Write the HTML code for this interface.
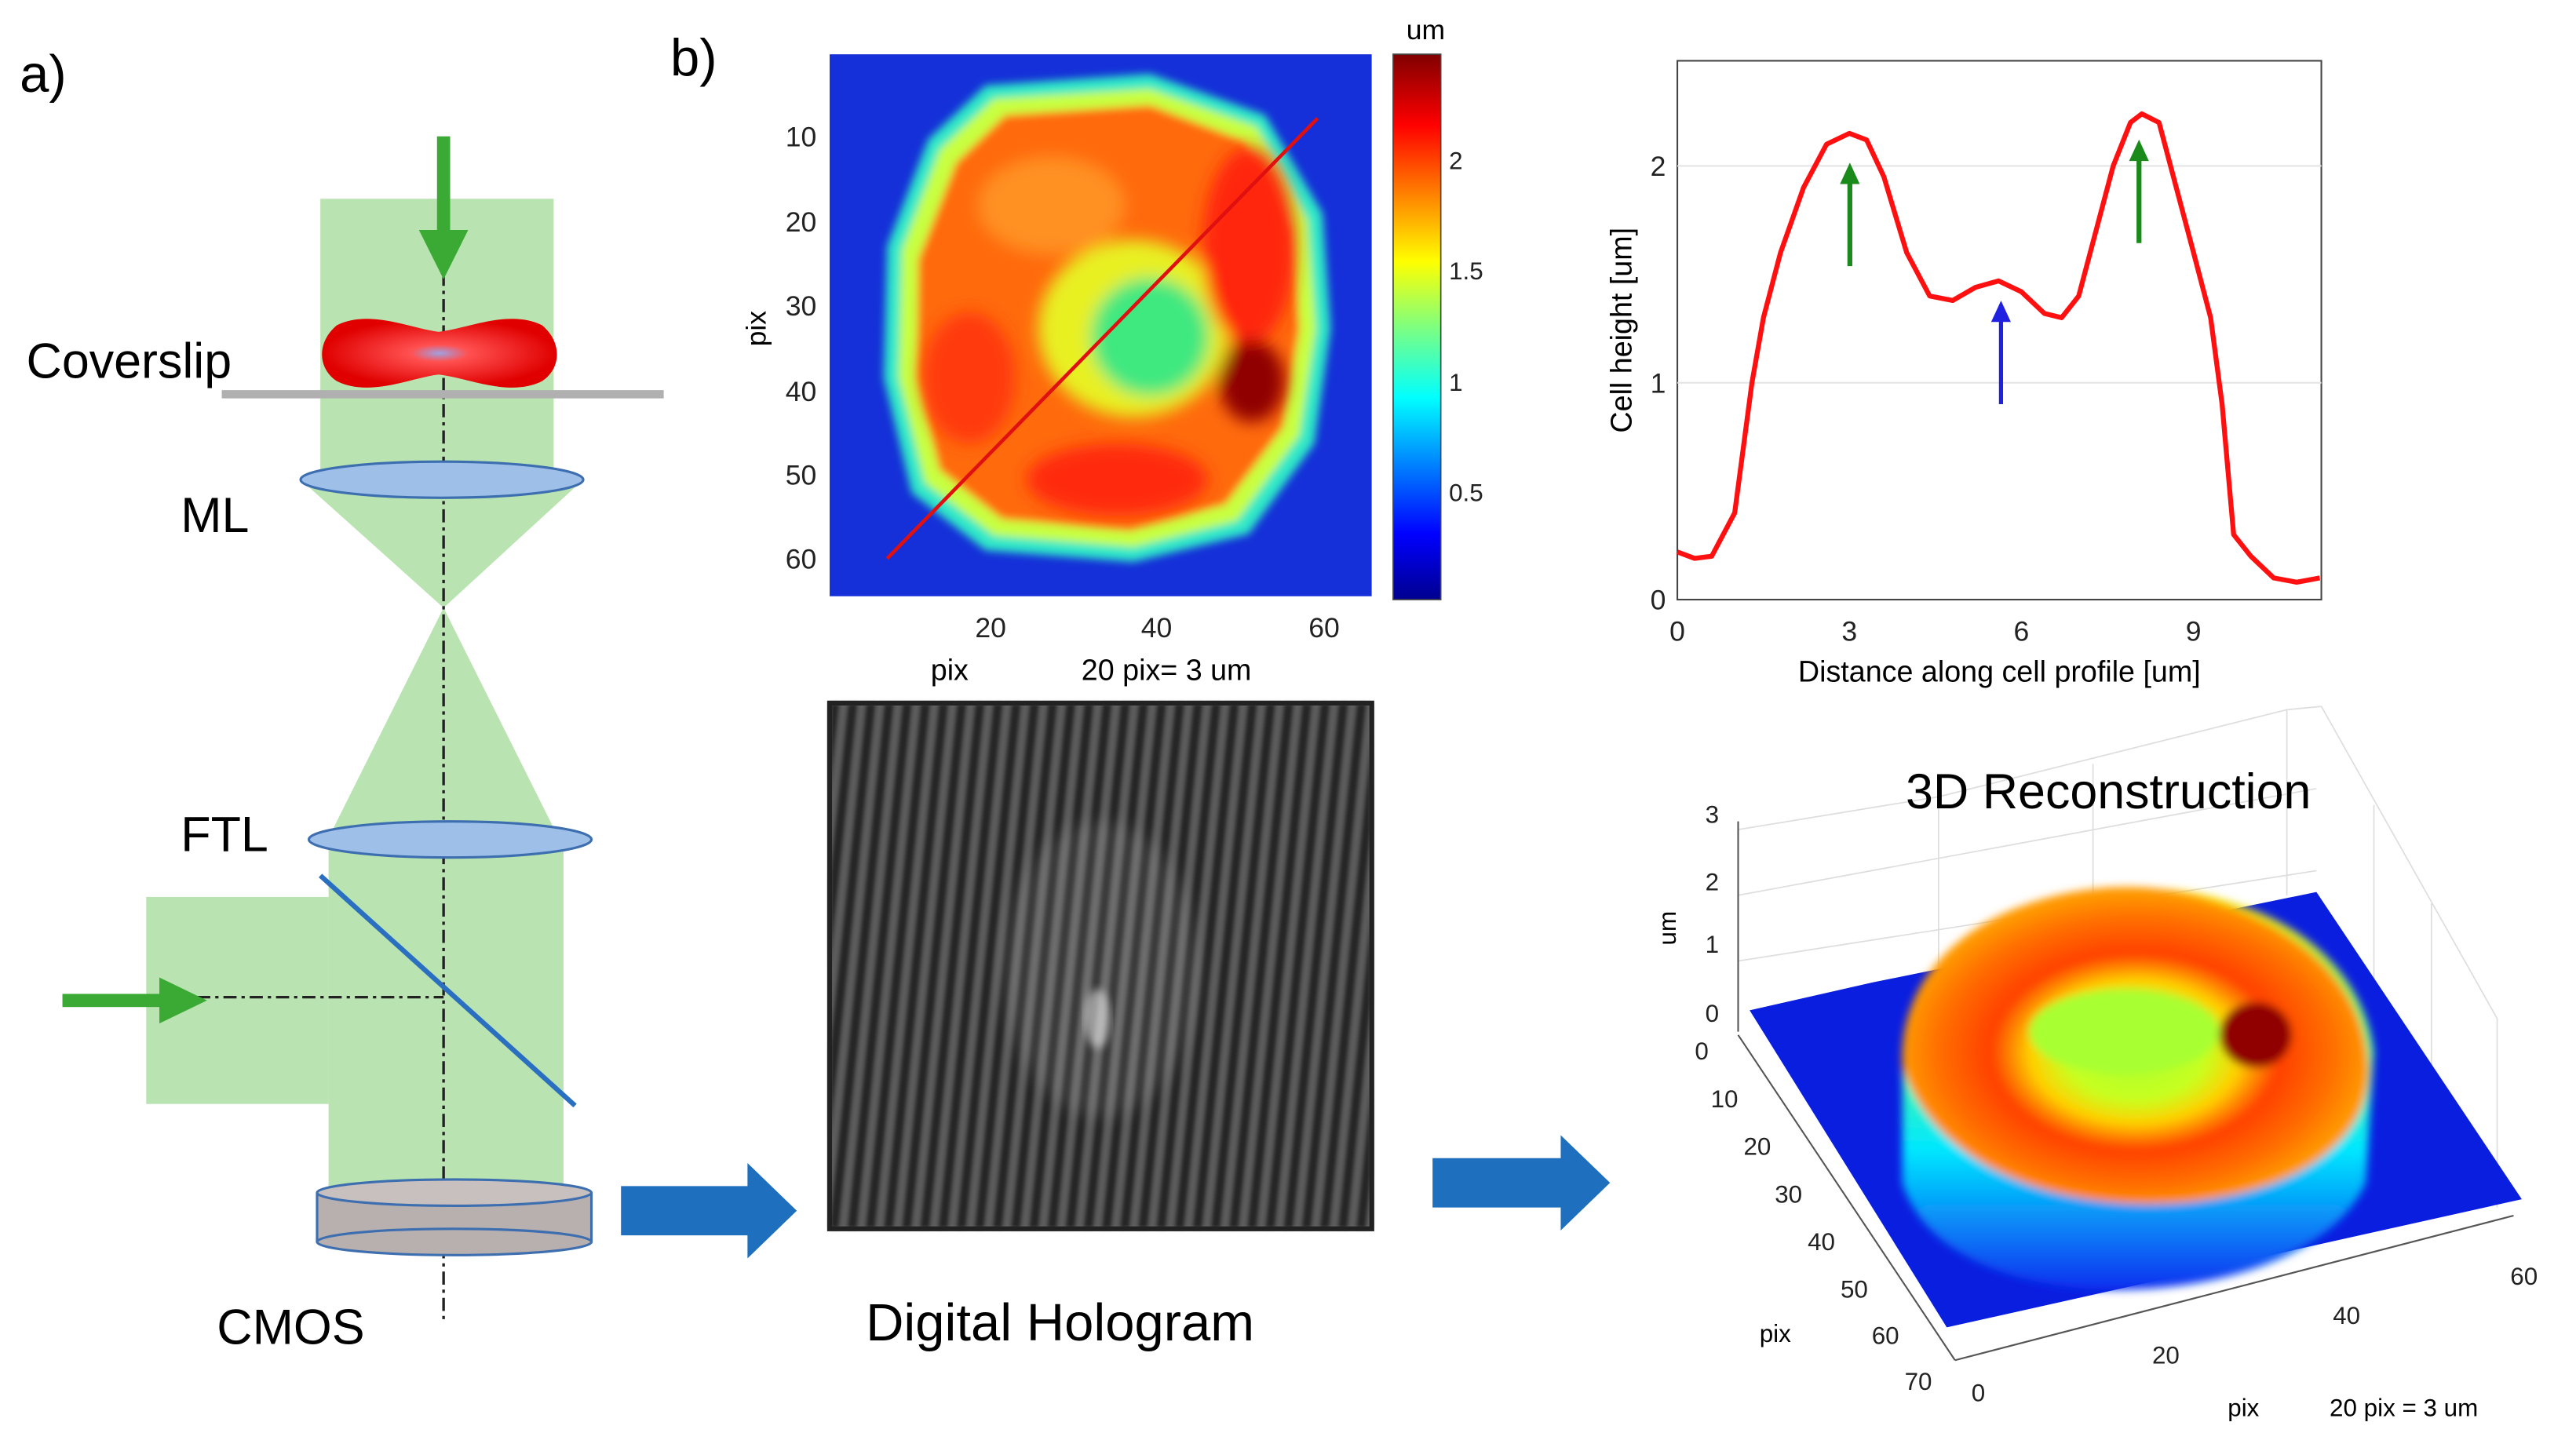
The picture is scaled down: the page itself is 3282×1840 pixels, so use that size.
<!DOCTYPE html>
<html><head><meta charset="utf-8"><style>
html,body{margin:0;padding:0;background:#fff;}
svg{display:block;font-family:"Liberation Sans",sans-serif;}
</style></head><body>
<svg id="fig" width="3282" height="1840" viewBox="0 0 1568 879" preserveAspectRatio="none" xmlns="http://www.w3.org/2000/svg">
<defs>
 <linearGradient id="jet" x1="0" y1="1" x2="0" y2="0">
  <stop offset="0" stop-color="#00008f"/><stop offset="0.12" stop-color="#0000ff"/>
  <stop offset="0.37" stop-color="#00ffff"/><stop offset="0.5" stop-color="#7fff7f"/>
  <stop offset="0.62" stop-color="#ffff00"/><stop offset="0.87" stop-color="#ff0000"/>
  <stop offset="1" stop-color="#800000"/>
 </linearGradient>
 <filter id="blur4"><feGaussianBlur stdDeviation="5"/></filter>
 <filter id="blur2"><feGaussianBlur stdDeviation="2.5"/></filter>
 <filter id="blur1"><feGaussianBlur stdDeviation="1.2"/></filter>
 <radialGradient id="cellg" cx="0.5" cy="0.5" r="0.5">
  <stop offset="0" stop-color="#a0a0e0"/><stop offset="0.25" stop-color="#ff5050"/><stop offset="1" stop-color="#e00000"/>
 </radialGradient>
 <pattern id="fringe" width="11" height="40" patternUnits="userSpaceOnUse" patternTransform="rotate(6)">
  <rect width="11" height="40" fill="#252525"/>
  <rect x="3" width="5" height="40" fill="#6a6a6a" opacity="0.8"/>
 </pattern>
 <radialGradient id="top3d" cx="0.5" cy="0.52" r="0.5">
  <stop offset="0" stop-color="#a8ff30"/><stop offset="0.3" stop-color="#c8ff20"/>
  <stop offset="0.45" stop-color="#ffd000"/><stop offset="0.62" stop-color="#ff4000"/>
  <stop offset="0.85" stop-color="#ff7000"/><stop offset="1" stop-color="#ff9a00"/>
 </radialGradient>
 <linearGradient id="skirt" x1="0" y1="0" x2="0" y2="1">
  <stop offset="0" stop-color="#ffe000"/><stop offset="0.35" stop-color="#60ff80"/>
  <stop offset="0.65" stop-color="#00e8ff"/><stop offset="1" stop-color="#1030f0"/>
 </linearGradient>
</defs>

<!-- PANEL A -->
<g>
 <text x="12" y="56" font-size="32">a)</text>
 <rect x="195" y="121" width="142" height="171" fill="#b9e3b0"/>
 <polygon points="183,292 355,292 270,370" fill="#b9e3b0"/>
 <polygon points="270,370 200,510 340,510" fill="#b9e3b0"/>
 <rect x="200" y="510" width="143" height="218" fill="#b9e3b0"/>
 <rect x="89" y="546" width="111" height="126" fill="#b9e3b0"/>
 <line x1="270" y1="150" x2="270" y2="806" stroke="#222" stroke-width="1.6" stroke-dasharray="8,3,2,3"/>
 <line x1="40" y1="607" x2="270" y2="607" stroke="#222" stroke-width="1.6" stroke-dasharray="8,3,2,3"/>
 <path d="M205,198 C225,188 250,200 267,202 C285,200 310,188 330,198 C342,208 342,224 330,232 C310,242 285,230 267,228 C250,230 225,242 205,232 C193,224 193,208 205,198 Z" fill="url(#cellg)"/>
 <line x1="135" y1="240" x2="404" y2="240" stroke="#b0b0b0" stroke-width="5"/>
 <g><rect x="266" y="83" width="8" height="60" fill="#3aaa35"/><polygon points="255,140 285,140 270,170" fill="#3aaa35"/></g>
 <g><rect x="38" y="605" width="62" height="8" fill="#3aaa35"/><polygon points="97,595 97,623 126,609" fill="#3aaa35"/></g>
 <ellipse cx="269" cy="292" rx="86" ry="11" fill="#9dbfe8" stroke="#3d6eb0" stroke-width="1.5"/>
 <ellipse cx="274" cy="511" rx="86" ry="11" fill="#9dbfe8" stroke="#3d6eb0" stroke-width="1.5"/>
 <line x1="195" y1="533" x2="350" y2="673" stroke="#2a6fc0" stroke-width="3"/>
 <g>
  <rect x="193" y="726" width="167" height="30" fill="#b8b0ae"/>
  <ellipse cx="276.5" cy="756" rx="83.5" ry="8" fill="#b8b0ae" stroke="#3d6eb0" stroke-width="1.5"/>
  <line x1="193" y1="726" x2="193" y2="756" stroke="#3d6eb0" stroke-width="1.5"/><line x1="360" y1="726" x2="360" y2="756" stroke="#3d6eb0" stroke-width="1.5"/>
  <ellipse cx="276.5" cy="726" rx="83.5" ry="8" fill="#c8c0be" stroke="#3d6eb0" stroke-width="1.5"/>
 </g>
 <text x="16" y="230" font-size="30">Coverslip</text>
 <text x="110" y="324" font-size="30">ML</text>
 <text x="110" y="518" font-size="30">FTL</text>
 <text x="132" y="818" font-size="30">CMOS</text>
 <polygon points="378,722 455,722 455,708 485,737 455,766 455,752 378,752" fill="#1f6fbf"/>
 <polygon points="872,705 950,705 950,691 980,720 950,749 950,735 872,735" fill="#1f6fbf"/>
</g>

<text x="408" y="46" font-size="32">b)</text>

<!-- HEATMAP -->
<g>
 <svg x="505" y="33" width="330" height="330" viewBox="505 33 330 330">
  <rect x="505" y="33" width="330" height="330" fill="#1530d8"/>
  <g filter="url(#blur2)">
   <path d="M600,52 L700,45 L770,70 L805,130 L810,200 L800,270 L760,325 L690,342 L600,335 L555,300 L538,230 L540,150 L565,85 Z" fill="#2ee8c8"/>
   <path d="M605,60 L700,54 L765,77 L796,134 L801,200 L791,265 L753,317 L690,333 L605,326 L563,294 L547,230 L549,152 L572,91 Z" fill="#c8ff40"/>
   <path d="M612,70 L700,64 L758,86 L786,140 L791,200 L781,260 L746,307 L688,323 L610,316 L572,286 L558,230 L559,158 L582,99 Z" fill="#ff6a10"/>
  </g>
  <g filter="url(#blur4)">
   <ellipse cx="640" cy="125" rx="45" ry="30" fill="#ff9020"/>
   <ellipse cx="690" cy="200" rx="58" ry="54" fill="#e8f020"/>
   <ellipse cx="700" cy="205" rx="36" ry="36" fill="#40e880"/>
   <ellipse cx="760" cy="150" rx="28" ry="60" fill="#ff2808"/>
   <ellipse cx="762" cy="232" rx="20" ry="25" fill="#900000"/>
   <ellipse cx="590" cy="230" rx="28" ry="40" fill="#ff3a10"/>
   <ellipse cx="680" cy="292" rx="55" ry="22" fill="#ff2a10"/>
  </g>
 </svg>
 <line x1="540" y1="340" x2="802" y2="72" stroke="#e01010" stroke-width="2.2"/>
 <g font-size="17" text-anchor="end" fill="#222">
  <text x="497" y="89">10</text><text x="497" y="141">20</text><text x="497" y="192">30</text><text x="497" y="244">40</text><text x="497" y="295">50</text><text x="497" y="346">60</text>
 </g>
 <g font-size="17" text-anchor="middle" fill="#222">
  <text x="603" y="388">20</text><text x="704" y="388">40</text><text x="806" y="388">60</text>
 </g>
 <text x="578" y="414" font-size="18" text-anchor="middle">pix</text>
 <text x="710" y="414" font-size="18" text-anchor="middle">20 pix= 3 um</text>
 <text x="0" y="0" font-size="17" text-anchor="middle" transform="translate(466,200) rotate(-90)">pix</text>
 <rect x="848" y="33" width="29" height="332" fill="url(#jet)" stroke="#444" stroke-width="0.8"/>
 <g font-size="15" fill="#222">
  <text x="882" y="103">2</text><text x="882" y="170">1.5</text><text x="882" y="238">1</text><text x="882" y="305">0.5</text>
 </g>
 <text x="856" y="24" font-size="17">um</text>
</g>

<!-- HOLOGRAM -->
<g>
 <rect x="505" y="428" width="330" height="320" fill="url(#fringe)" filter="url(#blur1)"/>
 <rect x="505" y="428" width="330" height="320" fill="none" stroke="#222" stroke-width="3"/>
 <ellipse cx="670" cy="590" rx="60" ry="90" fill="#fff" opacity="0.1" filter="url(#blur4)"/>
 <ellipse cx="668" cy="620" rx="8" ry="18" fill="#fff" opacity="0.5" filter="url(#blur2)"/>
 <text x="527" y="816" font-size="32">Digital Hologram</text>
</g>

<!-- LINE PROFILE -->
<g id="profile">
 <rect x="1021" y="37" width="392" height="328" fill="none" stroke="#444" stroke-width="1"/>
 <g id="pgrid"></g>
 <path id="pline" fill="none" stroke="#ff1010" stroke-width="3" stroke-linejoin="round"/>
 <g id="pticks" font-size="17" fill="#222"></g>
 <text x="1217" y="415" font-size="18" text-anchor="middle">Distance along cell profile [um]</text>
 <text x="0" y="0" font-size="18" text-anchor="middle" transform="translate(993,201) rotate(-90)">Cell height [um]</text>
 <g><line x1="1126" y1="162" x2="1126" y2="108" stroke="#1a8a1a" stroke-width="3"/><polygon points="1120,112 1132,112 1126,99" fill="#1a8a1a"/></g>
 <g><line x1="1302" y1="148" x2="1302" y2="94" stroke="#1a8a1a" stroke-width="3"/><polygon points="1296,98 1308,98 1302,85" fill="#1a8a1a"/></g>
 <g><line x1="1218" y1="246" x2="1218" y2="192" stroke="#2020e0" stroke-width="2.5"/><polygon points="1212,196 1224,196 1218,183" fill="#2020e0"/></g>
</g>

<!-- 3D -->
<g>
 <g stroke="#ddd" stroke-width="0.8" fill="none">
  <polyline points="1058,505 1180,485 1392,432 1413,430"/>
  <polyline points="1058,545 1410,480"/><polyline points="1058,585 1410,530"/>
  <line x1="1180" y1="485" x2="1180" y2="600"/><line x1="1274" y1="465" x2="1274" y2="580"/>
  <line x1="1392" y1="432" x2="1392" y2="545"/>
  <polyline points="1413,430 1520,620 1520,735"/>
  <line x1="1445" y1="490" x2="1445" y2="620"/><line x1="1480" y1="550" x2="1480" y2="680"/>
 </g>
 <line x1="1058" y1="500" x2="1058" y2="628" stroke="#555" stroke-width="1"/>
 <polygon points="1065,615 1140,598 1410,543 1535,730 1185,808" fill="#0a1ee0"/>
 <g filter="url(#blur2)">
  <path d="M1158,640 C1160,600 1190,570 1230,555 C1270,540 1320,535 1360,550 C1410,565 1440,600 1445,640 L1440,720 C1420,765 1350,785 1290,785 C1220,785 1170,760 1158,720 Z" fill="url(#skirt)"/>
  <path d="M1158,650 C1155,600 1190,565 1235,550 C1270,538 1310,536 1345,548 C1400,565 1440,600 1442,650 C1442,695 1400,725 1330,732 C1260,738 1180,715 1158,650 Z" fill="url(#top3d)"/>
  <ellipse cx="1293" cy="628" rx="58" ry="26" fill="#a8ff30"/>
  <ellipse cx="1373" cy="630" rx="22" ry="20" fill="#900000"/>
 </g>
 <line x1="1058" y1="630" x2="1190" y2="828" stroke="#555" stroke-width="1"/>
 <line x1="1190" y1="828" x2="1530" y2="740" stroke="#555" stroke-width="1"/>
 <g font-size="15" fill="#222">
  <text x="1038" y="501">3</text><text x="1038" y="542">2</text><text x="1038" y="580">1</text><text x="1038" y="622">0</text>
 </g>
 <text x="0" y="0" font-size="15" text-anchor="middle" transform="translate(1020,565) rotate(-90)">um</text>
 <g font-size="15" fill="#222" text-anchor="end">
  <text x="1040" y="645">0</text><text x="1058" y="674">10</text><text x="1078" y="703">20</text><text x="1097" y="732">30</text><text x="1117" y="761">40</text><text x="1137" y="790">50</text><text x="1156" y="818">60</text><text x="1176" y="846">70</text>
 </g>
 <text x="1071" y="817" font-size="15">pix</text>
 <g font-size="15" fill="#222">
  <text x="1200" y="853">0</text><text x="1310" y="830">20</text><text x="1420" y="806">40</text><text x="1528" y="782">60</text>
 </g>
 <text x="1356" y="862" font-size="15">pix</text>
 <text x="1418" y="862" font-size="15">20 pix = 3 um</text>
 <text x="1160" y="492" font-size="30">3D Reconstruction</text>
</g>
</svg>
<script>
const distances=[0,0.3,0.6,1.0,1.3,1.5,1.8,2.2,2.6,3.0,3.3,3.6,4.0,4.4,4.8,5.2,5.6,6.0,6.4,6.7,7.0,7.3,7.6,7.9,8.1,8.4,8.7,9.0,9.3,9.5,9.7,10.0,10.4,10.8,11.2];
const heights=[0.22,0.19,0.2,0.4,1.0,1.3,1.6,1.9,2.1,2.15,2.12,1.95,1.6,1.4,1.38,1.44,1.47,1.42,1.32,1.3,1.4,1.7,2.0,2.2,2.24,2.2,1.9,1.6,1.3,0.9,0.3,0.2,0.1,0.08,0.1];
const xTicks=[0,3,6,9];
const yTicks=[0,1,2];
const X0=1021,X1=1413,Y0=365,Y1=37,XMAX=11.23,YMAX=2.485;
function sx(v){return X0+(X1-X0)*v/XMAX;}
function sy(v){return Y0-(Y0-Y1)*v/YMAX;}
const NS="http://www.w3.org/2000/svg";
const line=document.getElementById('pline');
line.setAttribute('d',distances.map((d,i)=>(i?'L':'M')+sx(d).toFixed(1)+','+sy(heights[i]).toFixed(1)).join(' '));
const tg=document.getElementById('pticks'),gg=document.getElementById('pgrid');
xTicks.forEach(v=>{
 const t=document.createElementNS(NS,'text');
 t.setAttribute('x',sx(v));t.setAttribute('y',Y0+25);t.setAttribute('text-anchor','middle');t.textContent=v;
 
 
 tg.appendChild(t);
});
yTicks.forEach(v=>{
 const t=document.createElementNS(NS,'text');
 t.setAttribute('x',X0-7);t.setAttribute('y',sy(v)+6);t.setAttribute('text-anchor','end');t.textContent=v;
 
 
 tg.appendChild(t);
 if(v>0){const l=document.createElementNS(NS,'line');
 l.setAttribute('x1',X0);l.setAttribute('x2',X1);l.setAttribute('y1',sy(v));l.setAttribute('y2',sy(v));
 l.setAttribute('stroke','#e4e4e4');l.setAttribute('stroke-width','1');
 
 
 gg.appendChild(l);}
});
</script>
</body></html>
